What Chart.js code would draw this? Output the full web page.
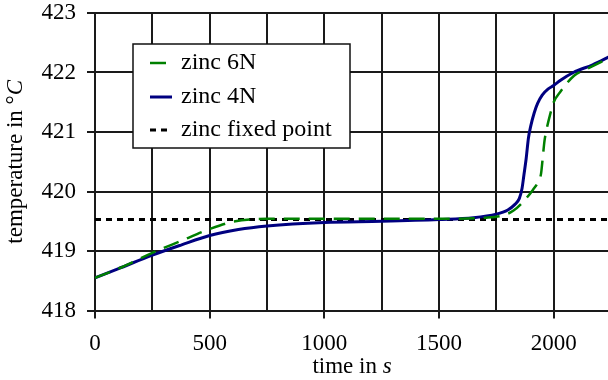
<!DOCTYPE html>
<html>
<head>
<meta charset="utf-8">
<script src="https://cdn.jsdelivr.net/npm/chart.js@4"></script>
<style>
  html, body { margin: 0; padding: 0; background: #fff; overflow: hidden; }
</style>
</head>
<body>
<canvas id="zincChart" width="620" height="380"></canvas>
<script>
// zinc freezing curves vs the zinc fixed point

const FONT = '"Liberation Serif", "Times New Roman", serif';

const time4N = [0, 100, 250, 375, 500, 625, 750, 1000, 1250, 1500, 1650, 1750, 1800, 1830, 1850, 1862, 1870, 1880, 1890, 1900, 1915, 1930, 1950, 1975, 2000, 2030, 2086, 2170, 2250];
const temp4N = [418.55, 418.7, 418.93, 419.1, 419.26, 419.36, 419.42, 419.48, 419.5, 419.53, 419.56, 419.62, 419.69, 419.78, 419.88, 420.05, 420.27, 420.55, 420.9, 421.1, 421.32, 421.48, 421.62, 421.72, 421.78, 421.87, 422.0, 422.13, 422.28];

const time6N = [0, 100, 250, 375, 500, 600, 750, 1000, 1250, 1500, 1700, 1780, 1825, 1870, 1910, 1935, 1945, 1952, 1960, 1970, 1985, 2000, 2030, 2090, 2145, 2250];
const temp6N = [418.55, 418.7, 418.97, 419.17, 419.37, 419.49, 419.54, 419.54, 419.54, 419.54, 419.56, 419.6, 419.68, 419.84, 420.03, 420.18, 420.3, 420.55, 420.85, 421.06, 421.3, 421.5, 421.68, 421.95, 422.06, 422.26];

const timeFixed = [0, 2250];
const tempFixed = [419.53, 419.53];

const xMin = 0, xMax = 2250, xStep = 250, xLabelStep = 500;
const yMin = 418, yMax = 423, yStep = 1;

const pairs = (xs, ys) => xs.map((x, i) => ({ x, y: ys[i] }));

// legend drawn inside the plot, like the original
const boxLegend = {
  id: "boxLegend",
  afterDraw(chart) {
    const c = chart.ctx;
    const left = 133, top = 44, w = 217, h = 104;
    c.save();
    c.fillStyle = "#fff";
    c.fillRect(left, top, w, h);
    c.strokeStyle = "#111";
    c.lineWidth = 1.5;
    c.strokeRect(left, top, w, h);
    const rows = [63, 97, 130];
    chart.data.datasets.forEach((ds, i) => {
      const y = rows[i];
      c.strokeStyle = ds.borderColor;
      c.lineWidth = ds.borderWidth;
      c.setLineDash(ds.borderDash || []);
      c.beginPath();
      c.moveTo(150, y);
      c.lineTo(172, y);
      c.stroke();
      c.setLineDash([]);
      c.fillStyle = "#000";
      c.font = `24px ${FONT}`;
      c.textBaseline = "middle";
      c.textAlign = "left";
      c.fillText(ds.label, 181, y);
    });
    c.restore();
  }
};

// axis titles with italic unit letters
const axisTitles = {
  id: "axisTitles",
  afterDraw(chart) {
    const c = chart.ctx;
    const a = chart.chartArea;
    const parts = (list, x, y) => {
      let total = 0;
      list.forEach(p => { c.font = `${p.it ? "italic " : ""}23px ${FONT}`; total += c.measureText(p.t).width; });
      let cx = x - total / 2;
      list.forEach(p => {
        c.font = `${p.it ? "italic " : ""}23px ${FONT}`;
        c.fillText(p.t, cx, y);
        cx += c.measureText(p.t).width;
      });
    };
    c.save();
    c.fillStyle = "#000";
    c.textBaseline = "middle";
    c.textAlign = "left";
    parts([{ t: "time in " }, { t: "s", it: true }], 352, 367);
    c.translate(16, (a.top + a.bottom) / 2);
    c.rotate(-Math.PI / 2);
    parts([{ t: "temperature in °" }, { t: "C", it: true }], 0, 0);
    c.restore();
  }
};

new Chart(document.getElementById("zincChart"), {
  type: "line",
  data: {
    datasets: [
      {
        label: "zinc 6N",
        data: pairs(time6N, temp6N),
        borderColor: "#008000",
        borderWidth: 2.5,
        borderDash: [16, 9],
        pointRadius: 0,
        cubicInterpolationMode: "monotone"
      },
      {
        label: "zinc 4N",
        data: pairs(time4N, temp4N),
        borderColor: "#000080",
        borderWidth: 3,
        pointRadius: 0,
        cubicInterpolationMode: "monotone"
      },
      {
        label: "zinc fixed point",
        data: pairs(timeFixed, tempFixed),
        borderColor: "#000",
        borderWidth: 3,
        borderDash: [6, 5],
        pointRadius: 0
      }
    ]
  },
  options: {
    responsive: false,
    animation: false,
    layout: { padding: { top: 13, right: 9, left: 0, bottom: 0 } },
    plugins: { legend: { display: false }, tooltip: { enabled: false } },
    scales: {
      x: {
        type: "linear",
        min: xMin,
        max: xMax,
        afterFit: s => { s.height = 69.5; s.paddingLeft = 0; s.paddingRight = 0; },
        ticks: {
          stepSize: xStep,
          autoSkip: false,
          maxRotation: 0,
          padding: 12,
          color: "#000",
          font: { family: FONT, size: 23 },
          callback: v => (v % xLabelStep === 0 ? v : "")
        },
        grid: {
          color: "#1a1a1a",
          lineWidth: 2,
          tickLength: 8,
          tickColor: ctx => (ctx.tick && ctx.tick.value % xLabelStep === 0 ? "#1a1a1a" : "rgba(0,0,0,0)")
        },
        border: { color: "#1a1a1a", width: 2 }
      },
      y: {
        min: yMin,
        max: yMax,
        afterFit: s => { s.width = 95; s.paddingTop = 0; s.paddingBottom = 0; },
        ticks: {
          stepSize: yStep,
          padding: 11,
          color: "#000",
          font: { family: FONT, size: 23 }
        },
        grid: { color: "#1a1a1a", lineWidth: 2, tickLength: 8, tickColor: "#1a1a1a" },
        border: { color: "#1a1a1a", width: 2 }
      }
    }
  },
  plugins: [boxLegend, axisTitles]
});
</script>
</body>
</html>
